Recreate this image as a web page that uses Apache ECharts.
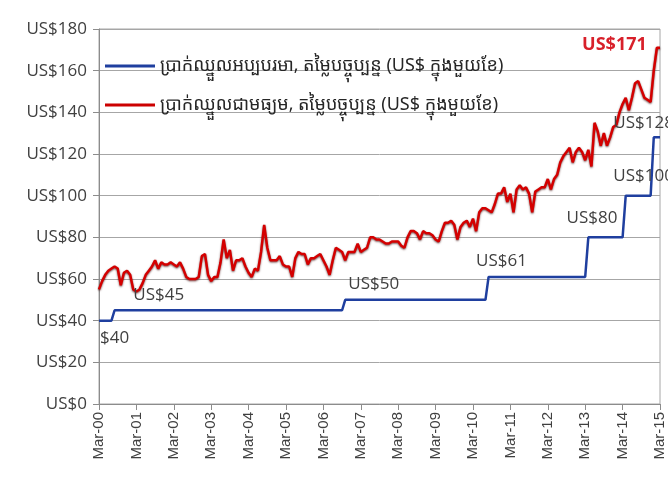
<!DOCTYPE html>
<html>
<head>
<meta charset="utf-8">
<script src="https://cdn.jsdelivr.net/npm/echarts@6/dist/echarts.min.js"></script>
<style>
  html, body { margin: 0; padding: 0; background: #fff; }
  #chart { width: 668px; height: 488px; }
</style>
</head>
<body>
<div id="chart"></div>
<script>
// monthly, Mar-00 .. Mar-15
var monthNames = ['Mar', 'Apr', 'May', 'Jun', 'Jul', 'Aug', 'Sep', 'Oct', 'Nov', 'Dec', 'Jan', 'Feb'];
var categories = [];
for (var y = 0; y < 15; y++) {
    for (var m = 0; m < 12; m++) {
        var yr = m < 10 ? y : y + 1;
        categories.push(monthNames[m] + '-' + (yr < 10 ? '0' + yr : '' + yr));
    }
}
categories.push('Mar-15');

var minWageName = 'ប្រាក់ឈ្នួលអប្បបរមា, តម្លៃបច្ចុប្បន្ន (US$ ក្នុងមួយខែ)';
var avgWageName = 'ប្រាក់ឈ្នួលជាមធ្យម, តម្លៃបច្ចុប្បន្ន (US$ ក្នុងមួយខែ)';

// one row = one year (Mar .. Feb)
var minWage = [
    40, 40, 40, 40, 40, 45, 45, 45, 45, 45, 45, 45,
    45, 45, 45, 45, 45, 45, 45, 45, 45, 45, 45, 45,
    45, 45, 45, 45, 45, 45, 45, 45, 45, 45, 45, 45,
    45, 45, 45, 45, 45, 45, 45, 45, 45, 45, 45, 45,
    45, 45, 45, 45, 45, 45, 45, 45, 45, 45, 45, 45,
    45, 45, 45, 45, 45, 45, 45, 45, 45, 45, 45, 45,
    45, 45, 45, 45, 45, 45, 45, 50, 50, 50, 50, 50,
    50, 50, 50, 50, 50, 50, 50, 50, 50, 50, 50, 50,
    50, 50, 50, 50, 50, 50, 50, 50, 50, 50, 50, 50,
    50, 50, 50, 50, 50, 50, 50, 50, 50, 50, 50, 50,
    50, 50, 50, 50, 50, 61, 61, 61, 61, 61, 61, 61,
    61, 61, 61, 61, 61, 61, 61, 61, 61, 61, 61, 61,
    61, 61, 61, 61, 61, 61, 61, 61, 61, 61, 61, 61,
    61, 80, 80, 80, 80, 80, 80, 80, 80, 80, 80, 80,
    80, 100, 100, 100, 100, 100, 100, 100, 100, 100, 128, 128,
    128
];

var avgWage = [
    55, 59, 62, 64, 65, 66, 65, 57, 63, 64, 62, 55,
    54, 55, 58, 62, 64, 66, 69, 65, 68, 67, 67, 68,
    67, 66, 68, 65, 61, 60, 60, 60, 61, 71, 72, 62,
    59, 61, 61, 68, 79, 70, 74, 64, 69, 69, 70, 66,
    63, 61, 65, 64, 73, 86, 75, 69, 69, 69, 71, 67,
    66, 66, 61, 70, 73, 72, 72, 67, 70, 70, 71, 72,
    69, 66, 62, 69, 75, 74, 73, 69, 73, 73, 73, 77,
    73, 74, 75, 80, 80, 79, 79, 78, 77, 77, 78, 78,
    78, 76, 75, 80, 83, 83, 82, 79, 83, 82, 82, 81,
    79, 78, 83, 87, 87, 88, 86, 79, 85, 87, 88, 85,
    89, 83, 92, 94, 94, 93, 92, 96, 101, 101, 104, 97,
    101, 92, 103, 105, 103, 104, 101, 92, 102, 103, 104, 104,
    108, 103, 108, 110, 116, 119, 121, 123, 116, 121, 123, 121,
    117, 122, 114, 135, 131, 124, 130, 124, 128, 133, 134, 140,
    144, 147, 141, 147, 154, 155, 151, 147, 146, 145, 160, 171,
    171
];

// callouts: [category index, value, text]
var minWageNotes = [
    [0, 40, '$40'],
    [11, 45, 'US$45'],
    [80, 50, 'US$50'],
    [121, 61, 'US$61'],
    [150, 80, 'US$80'],
    [165, 100, 'US$100'],
    [165, 128, 'US$128']
];
var avgWageNotes = [
    [155, 171, 'US$171']
];
var noteOffsets = [[1, 17], [0, -15], [0, -16], [0, -16], [0, -19], [0, -20], [0, -14]];

var textFont = '"Open Sans", "Noto Sans", sans-serif';
var khmerFont = '"Noto Sans Khmer", "Khmer OS", "Noto Sans", "DejaVu Sans", sans-serif';

var chart = echarts.init(document.getElementById('chart'));

chart.setOption({
    backgroundColor: '#fff',
    animation: false,
    grid: {
        left: 99,
        right: 8,
        top: 29,
        bottom: 84,
        show: true,
        borderColor: '#a6a6a6',
        borderWidth: 1
    },
    legend: {
        orient: 'vertical',
        left: 100,
        top: 52,
        icon: 'rect',
        itemWidth: 50,
        itemHeight: 3,
        itemGap: 21,
        textStyle: {
            fontFamily: khmerFont,
            fontSize: 18,
            color: '#262626'
        },
        data: [minWageName, avgWageName]
    },
    xAxis: {
        type: 'category',
        data: categories,
        boundaryGap: false,
        axisLine: { lineStyle: { color: '#8c8c8c', width: 1 } },
        axisTick: {
            interval: 11,
            length: 6,
            lineStyle: { color: '#8c8c8c' }
        },
        axisLabel: {
            interval: 11,
            rotate: 90,
            margin: 8,
            fontFamily: '"Liberation Sans", Arial, sans-serif',
            fontSize: 15,
            color: '#404040'
        },
        splitLine: { show: false }
    },
    yAxis: {
        type: 'value',
        min: 0,
        max: 180,
        interval: 20,
        axisLine: { show: true, lineStyle: { color: '#8c8c8c' } },
        axisTick: { show: true, length: 6, lineStyle: { color: '#8c8c8c' } },
        axisLabel: {
            margin: 12,
            fontFamily: textFont,
            fontSize: 17,
            color: '#404040',
            formatter: function (v) { return 'US$' + v; }
        },
        splitLine: { lineStyle: { color: '#a6a6a6', width: 1 } }
    },
    series: [
        {
            name: minWageName,
            type: 'line',
            data: minWage,
            symbol: 'none',
            color: '#1f3f9f',
            lineStyle: { color: '#1f3f9f', width: 2.5 },
            markPoint: {
                symbol: 'circle',
                symbolSize: 0,
                label: {
                    show: true,
                    position: 'inside',
                    align: 'left',
                    fontFamily: textFont,
                    fontSize: 17,
                    color: '#404040'
                },
                data: minWageNotes.map(function (n, i) {
                    return {
                        coord: [n[0], n[1]],
                        value: n[2],
                        label: { formatter: n[2], offset: noteOffsets[i] }
                    };
                })
            },
            z: 3
        },
        {
            name: avgWageName,
            type: 'line',
            data: avgWage,
            symbol: 'none',
            color: '#cc0000',
            lineStyle: {
                color: '#d40000',
                width: 2.5,
                shadowColor: 'rgba(60,0,0,0.7)',
                shadowBlur: 2,
                shadowOffsetY: 1
            },
            markPoint: {
                symbol: 'circle',
                symbolSize: 0,
                label: {
                    show: true,
                    position: 'inside',
                    align: 'left',
                    fontFamily: textFont,
                    fontSize: 18,
                    fontWeight: 'bold',
                    color: '#d8202a',
                    offset: [0, -3]
                },
                data: avgWageNotes.map(function (n) {
                    return { coord: [n[0], n[1]], value: n[2], label: { formatter: n[2] } };
                })
            },
            z: 4
        }
    ]
});
</script>
</body>
</html>
